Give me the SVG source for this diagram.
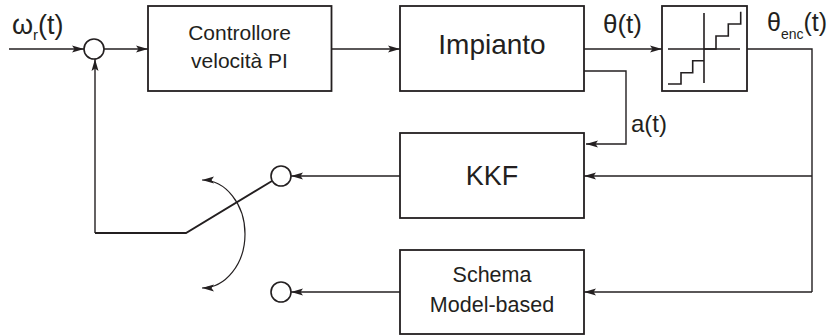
<svg xmlns="http://www.w3.org/2000/svg" width="832" height="336" viewBox="0 0 832 336">
<style>
.box{fill:#fff;stroke:#231f20;stroke-width:1.8}
.ln{fill:none;stroke:#231f20;stroke-width:1.4}
.arr{fill:none;stroke:#231f20;stroke-width:1.4;marker-end:url(#ah)}
.t{font-family:"Liberation Sans",Arial,sans-serif;fill:#231f20}
</style>
<defs>
<marker id="ah" markerUnits="userSpaceOnUse" markerWidth="12" markerHeight="8" viewBox="0 0 12 8" refX="12" refY="4" orient="auto-start-reverse">
<path d="M0,0.5 L12,4 L0,7.5 L2.5,4 z" fill="#231f20"/>
</marker>
</defs>
<rect width="832" height="336" fill="#fff"/>
<g id="connectors">
<path class="arr" d="M9,49 H84"/>
<path class="arr" d="M104,49 H148"/>
<path class="arr" d="M332,49 H400"/>
<path class="arr" d="M584,49 H662"/>
<path class="ln" d="M747,49 H812 V292"/>
<path class="arr" d="M812,176 H584"/>
<path class="arr" d="M812,292 H584"/>
<path class="arr" d="M584,71 H626 V144 H586"/>
<path class="arr" d="M400,176 H291"/>
<path class="arr" d="M400,292 H291"/>
<path class="arr" d="M95,233 V59"/>
<path class="ln" d="M95,233 H186 L272,181" style="stroke-width:1.9"/>
<path class="ln" d="M202,180 A43,54 0 0 1 202,288" style="marker-start:url(#ah);marker-end:url(#ah);stroke-width:1.2"/>
</g>
<g id="sum"><circle class="box" cx="94" cy="49" r="10" style="stroke-width:1.6"/></g>
<g id="controller">
<rect class="box" x="148" y="6" width="183.5" height="85"/>
<text class="t" x="239.5" y="40" font-size="21" text-anchor="middle">Controllore</text>
<text class="t" x="239.5" y="68" font-size="21" text-anchor="middle">velocità PI</text>
</g>
<g id="impianto">
<rect class="box" x="400" y="6" width="184" height="85"/>
<text class="t" x="492" y="54" font-size="28" text-anchor="middle">Impianto</text>
</g>
<g id="encoder">
<rect class="box" x="662" y="6" width="85" height="85"/>
<path class="ln" d="M668,49 H740 M704,13 V83" style="stroke-width:1.6"/>
<path class="ln" d="M668,84 H681 V72.7 H692.7 V60.7 H704 M704,49 H716 V36 H728.3 V24 H740.7 V11.7" style="stroke-width:1.6"/>
</g>
<g id="kkf">
<rect class="box" x="400" y="133" width="184" height="85"/>
<text class="t" x="492" y="185" font-size="27" text-anchor="middle">KKF</text>
</g>
<g id="schema">
<rect class="box" x="400" y="250" width="184" height="84"/>
<text class="t" x="492" y="282" font-size="21.5" text-anchor="middle">Schema</text>
<text class="t" x="492" y="311.5" font-size="21.5" text-anchor="middle">Model-based</text>
</g>
<g id="switch">
<circle class="box" cx="281" cy="176" r="10" style="stroke-width:1.6"/>
<circle class="box" cx="281" cy="292" r="10" style="stroke-width:1.6"/>
</g>
<g id="labels">
<text class="t" x="12" y="34" font-size="27">ω<tspan font-size="15" dy="6">r</tspan><tspan dy="-6">(t)</tspan></text>
<text class="t" x="603" y="33" font-size="26">θ(t)</text>
<text class="t" x="767" y="31" font-size="25">θ<tspan font-size="14" dy="8">enc</tspan><tspan dy="-8">(t)</tspan></text>
<text class="t" x="631" y="132" font-size="24">a(t)</text>
</g>
</svg>
